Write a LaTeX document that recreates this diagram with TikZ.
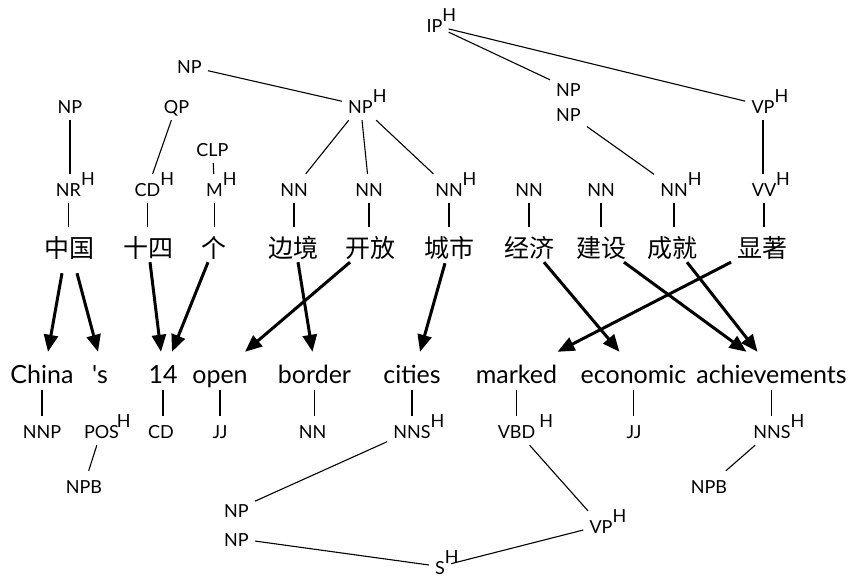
\documentclass[tikz,border=0pt]{standalone}
\usepackage{fontspec}
\setmainfont{Lato}
\newfontfamily\cjk{Noto Sans CJK SC}
\usetikzlibrary{arrows.meta,calc}

% head marker written after a category label, kept out of the label's width
\newcommand{\hd}[1][0pt]{\rlap{\kern#1\raisebox{11pt}{H}}}

\tikzset{
  tag/.style={font=\fontsize{18}{20}\selectfont, text height=15pt, text depth=0pt,
              inner xsep=6pt, inner ysep=7pt, anchor=base},
  word/.style={font=\fontsize{25}{28}\selectfont, text height=24pt, text depth=0pt,
               inner xsep=4pt, inner ysep=7pt, anchor=base},
  zh/.style={font=\cjk\fontsize{25}{28}\selectfont, text height=22pt, text depth=3pt,
             inner xsep=2pt, inner ysep=8pt, anchor=base},
  branch/.style={line width=1.1pt},
  mapto/.style={line width=3pt, -{Triangle[length=17pt,width=14pt]}},
}

\begin{document}
\begin{tikzpicture}[x=1pt,y=-1pt]
\useasboundingbox (0,0) rectangle (848,578);

% ---- Chinese tree ----
\node[tag] (ip)  at (434.5,33)  {IP\hd};
\node[tag] (npA) at (189.5,74)  {NP};
\node[tag] (npH) at (360.5,113) {NP\hd};
\node[tag] (np1) at (70,113)    {NP};
\node[tag] (qp)  at (176.5,113) {QP};
\node[tag] (clp) at (212.5,156) {CLP};
\node[tag] (npB) at (568.5,96)  {NP};
\node[tag] (npC) at (568.5,121) {NP};
\node[tag] (vp)  at (763,113)   {VP\hd};

\node[tag] (nr)  at (68.5,196)  {NR\hd};
\node[tag] (cd)  at (147.5,196) {CD\hd};
\node[tag] (m)   at (214.5,196) {M\hd};
\node[tag] (nn1) at (294,196)   {NN};
\node[tag] (nn2) at (369,196)   {NN};
\node[tag] (nn3) at (449,196)   {NN\hd};
\node[tag] (nn4) at (529,196)   {NN};
\node[tag] (nn5) at (601,196)   {NN};
\node[tag] (nn6) at (674,196)   {NN\hd};
\node[tag] (vv)  at (764,196)   {VV\hd};

\node[zh] (c1)  at (69,257)  {中国};
\node[zh] (c2)  at (148,257) {十四};
\node[zh] (c3)  at (214,257) {个};
\node[zh] (c4)  at (293,257) {边境};
\node[zh] (c5)  at (370,257) {开放};
\node[zh] (c6)  at (449,257) {城市};
\node[zh] (c7)  at (529,257) {经济};
\node[zh] (c8)  at (601,257) {建设};
\node[zh] (c9)  at (672,257) {成就};
\node[zh] (c10) at (762,257) {显著};

\draw[branch] (ip) -- (npB);
\draw[branch] (ip) -- (vp);
\draw[branch] (npA) -- (npH);
\draw[branch] (npH) -- (nn1);
\draw[branch] (npH) -- (nn2);
\draw[branch] (npH) -- (nn3);
\draw[branch] (np1.south) -- (np1.south |- nr.north);
\draw[branch] (qp) -- (cd);
\draw[branch] (clp) -- (m);
\draw[branch] (npC) -- (nn6);
\draw[branch] (vp.south) -- (vp.south |- vv.north);

\foreach \t/\c in {nr/c1, cd/c2, m/c3, nn1/c4, nn2/c5, nn3/c6, nn4/c7, nn5/c8, nn6/c9, vv/c10}
  \draw[branch] (\t.south) -- (\t.south |- \c.north);

% ---- English tree ----
\node[word] (china)  at (42,383)    {China};
\node[word] (aps)    at (100,383)   {\textquotesingle s};
\node[word] (n14)    at (163,383)   {14};
\node[word] (open)   at (220,383)   {open};
\node[word] (border) at (314.5,383) {border};
\node[word] (cities) at (412,383)   {cities};
\node[word] (marked) at (516.5,383) {marked};
\node[word] (econ)   at (633.5,383) {economic};
\node[word] (achv)   at (771.5,383) {achievements};

\node[tag] (nnp)  at (42,438)    {NNP};
\node[tag] (pos)  at (101.5,438) {POS\hd[-2pt]};
\node[tag] (cdb)  at (161,438)   {CD};
\node[tag] (jja)  at (220,438)   {JJ};
\node[tag] (nnb)  at (312.5,438) {NN};
\node[tag] (nnsa) at (412,438)   {NNS\hd};
\node[tag] (vbd)  at (516.5,438) {VBD\hd[4pt]};
\node[tag] (jjb)  at (634,438)   {JJ};
\node[tag] (nnsb) at (772,438)   {NNS\hd};

\node[tag] (npba) at (84,493)    {NPB};
\node[tag] (npbb) at (709,493)   {NPB};
\node[tag] (npD)  at (236.5,517) {NP};
\node[tag] (npE)  at (236.5,546) {NP};
\node[tag] (vpb)  at (601,533)   {VP\hd};
\node[tag] (s)    at (440,574)   {S\hd};

\foreach \w/\t in {china/nnp, n14/cdb, open/jja, border/nnb, cities/nnsa, marked/vbd, econ/jjb, achv/nnsb}
  \draw[branch] (\w.south) -- (\w.south |- \t.north);
\draw[branch] ($(aps.south)+(4,0)$) -- ($(aps.south)+(4,0)$ |- pos.north);

\draw[branch] (pos) -- (npba);
\draw[branch] (nnsa) -- (npD);
\draw[branch] (npE) -- (s);
\draw[branch] (vbd) -- (vpb);
\draw[branch] (vpb) -- (s);
\draw[branch] (nnsb) -- (npbb);

% ---- word alignment ----
\draw[mapto] ($(c1.south)+(-7,5)$)   -- ($(china.north)+(6,0)$);
\draw[mapto] ($(c1.south)+(8,5)$)    -- ($(aps.north)+(-2,0)$);
\draw[mapto] ($(c2.south)+(2,-6)$)   -- ($(n14.north)+(-2,0)$);
\draw[mapto] ($(c3.south)+(-6,-6)$)  -- ($(n14.north)+(9,0)$);
\draw[mapto] ($(c4.south)+(5,-6)$)   -- ($(border.north)+(-2,0)$);
\draw[mapto] ($(c5.south)+(-20,-6)$) -- ($(open.north)+(25,0)$);
\draw[mapto] ($(c6.south)+(-4,-5)$)  -- ($(cities.north)+(8,0)$);
\draw[mapto] ($(c7.south)+(15,-6)$)  -- ($(econ.north)+(-14,0)$);
\draw[mapto] ($(c8.south)+(23,-6)$)  -- ($(achv.north)+(-25,0)$);
\draw[mapto] ($(c9.south)+(15,-6)$)  -- ($(achv.north)+(-14,0)$);
\draw[mapto] ($(c10.south)+(-31,-6)$) -- ($(marked.north)+(41,0)$);
\end{tikzpicture}
\end{document}
